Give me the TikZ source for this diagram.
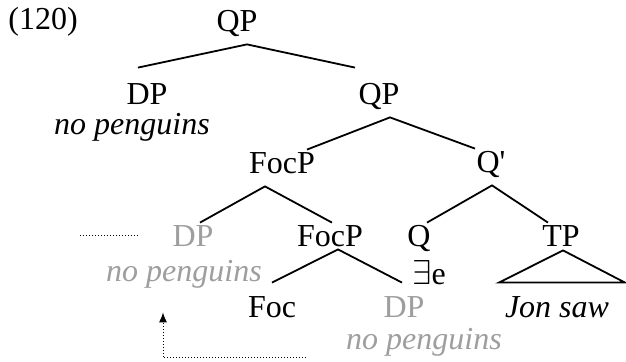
\documentclass[tikz,border=0pt]{standalone}
\usepackage{fontspec}
\setmainfont{Liberation Serif}
\usetikzlibrary{arrows.meta,calc}
\definecolor{trgray}{HTML}{9E9E9E}

\begin{document}
\begin{tikzpicture}[
    x=0.5pt, y=-0.5pt,
    every node/.style={font=\fontsize{16}{19}\selectfont, inner sep=0pt},
    cat/.style={anchor=base, text height=12pt, text depth=6pt},
    lex/.style={cat, font=\fontsize{16}{19}\selectfont\itshape},
    lowcopy/.style={text=trgray},
    branch/.style={line width=0.9pt},
    mvt/.style={densely dotted, line width=0.5pt}
  ]
  \useasboundingbox (0,0) rectangle (626,362);
  \node[anchor=base west] (ex) at (8,30) {(120)};
  \node[cat] (qp) at (237,32) {QP};
  \node[cat] (dp) at (147,105) {DP};
  \node[lex] (dpw) at (132,135) {no penguins};
  \node[cat] (qpa) at (379,105) {QP};
  \node[cat] (focp) at (282,174) {FocP};
  \node[cat] (qbar) at (491,173) {Q\textquotesingle};
  \node[cat, lowcopy] (dpc) at (193,247) {DP};
  \node[lex, lowcopy] (dpcw) at (184,282) {no penguins};
  \node[cat] (focpa) at (330,247) {FocP};
  \node[cat, text depth=0pt] (q) at (419,247) {Q};
  \node[anchor=base] (qw) at (429,285) {$\exists$e};
  \node[cat] (tp) at (561,247) {TP};
  \node[cat] (foc) at (272,318) {Foc};
  \node[cat, lowcopy] (dpl) at (404,318) {DP};
  \node[lex, lowcopy] (dplw) at (424,350) {no penguins};
  \node[lex] (tpw) at (557,318) {Jon saw};
  \draw[branch] ($(dp.north)+(-9,-13)$) -- ($(qp.south)+(10,0)$) -- ($(qpa.north)+(-24,-13)$);
  \draw[branch] ($(focp.north)+(25,0)$) -- ($(qpa.south)+(11,0)$) -- ($(qbar.north)+(-16,0)$);
  \draw[branch] ($(dpc.north)+(7,0)$) -- ($(focp.south)+(-17,0)$) -- ($(focpa.north)+(2,0)$);
  \draw[branch] ($(q.north)+(8,0)$) -- ($(qbar.south)+(1,0)$) -- ($(tp.north)+(-13,0)$);
  \draw[branch] ($(foc.north)+(0,-11)$) -- ($(focpa.south)+(8,-10)$) -- ($(dpl.north)+(-2,-11)$);
  \draw[branch] ($(tp.south)+(2,-9)$) -- ($(tpw.north)+(-58,-11)$) -- ($(tpw.north)+(68,-11)$) -- cycle;
  \coordinate (trl) at (80,236);
  \draw[mvt] (trl) -- ($(dpc.west)+(-35,-5)$);
  \draw[mvt, -{Latex[length=5pt, width=4pt]}] ($(dplw.west)+(-40,14)$) -| ($(dpcw.south)+(-21,18)$);
\end{tikzpicture}
\end{document}
